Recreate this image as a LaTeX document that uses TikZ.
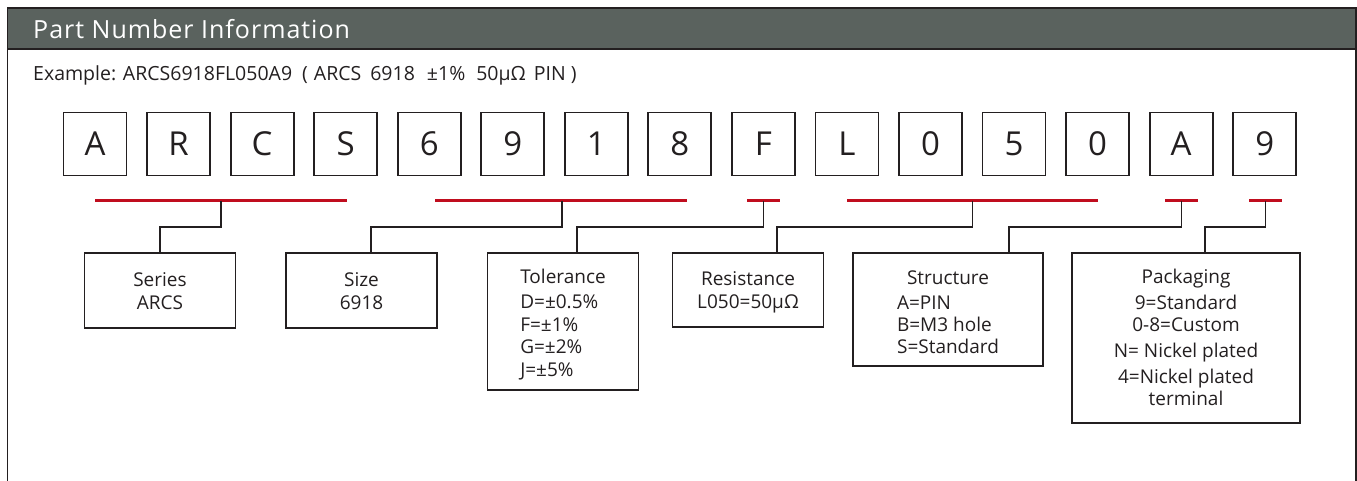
\documentclass[tikz,border=0pt]{standalone}
\usepackage{fontspec}
\setmainfont{Open Sans}
\definecolor{ink}{HTML}{231F20}
\definecolor{hdr}{HTML}{5A625E}
\definecolor{redl}{HTML}{C00D1E}
\tikzset{
  letterbox/.style={draw=ink, line width=1.8pt, minimum width=63pt, minimum height=63pt, inner sep=0pt, font=\fontsize{33}{36}\selectfont, text=ink},
  infobox/.style={draw=ink, line width=1.6pt, inner sep=0pt},
  infotext/.style={inner sep=0pt, align=center, font=\fontsize{19}{22.5}\selectfont, text=ink},
  redbar/.style={draw=redl, line width=3pt},
  conn/.style={draw=ink, line width=1.6pt},
}
\begin{document}
\begin{tikzpicture}[x=1pt,y=-1pt]
\useasboundingbox (0,0) rectangle (1357,481);
% frame and header
\fill[hdr] (7.5,8) rectangle (1356,49);
\draw[ink, line width=1.4pt] (7.5,481) -- (7.5,8) -- (1356,8) -- (1356,481);
\draw[ink, line width=1.6pt] (7.5,49) -- (1356,49);
\node[anchor=west, text=white, font=\fontsize{25}{28}\selectfont\addfontfeature{LetterSpace=4}, inner sep=0pt] (title) at (33,29) {Part Number Information};
\node[anchor=west, text=ink, font=\fontsize{19.5}{22}\selectfont, inner sep=0pt] (example) at (33,75) {Example: ARCS6918FL050A9\hspace{10pt}(\hspace{6pt}ARCS\hspace{9pt}6918\hspace{12pt}±1\%\hspace{11pt}50μΩ\hspace{8pt}PIN\hspace{5pt})};
% letter boxes
\foreach \ch [count=\i from 0] in {A,R,C,S,6,9,1,8,F,L,0,5,0,A,9} {
  \node[letterbox] (b\i) at ({95+83.55*\i},144) {\ch};
}
% red bars
\coordinate (m) at (0,227);
\draw[redbar] (95,201) -- (347,201);   \coordinate (r1) at (221,201);
\draw[redbar] (435,201) -- (687,201);  \coordinate (r2) at (562,201);
\draw[redbar] (747,201) -- (780,201);  \coordinate (r3) at (763.5,201);
\draw[redbar] (847,201) -- (1098,201); \coordinate (r4) at (972.5,201);
\draw[redbar] (1165,201) -- (1198,201); \coordinate (r5) at (1181.5,201);
\draw[redbar] (1249,201) -- (1282,201); \coordinate (r6) at (1265.5,201);
% info boxes
\node[infobox, minimum width=151pt, minimum height=75pt] (series) at (160,290.5) {};
\node[infobox, minimum width=151pt, minimum height=75pt] (size) at (361.5,290.5) {};
\node[infobox, minimum width=151pt, minimum height=137pt] (tol) at (563,321.5) {};
\node[infobox, minimum width=151pt, minimum height=74pt] (res) at (748,290) {};
\node[infobox, minimum width=190pt, minimum height=113pt] (str) at (948,309.5) {};
\node[infobox, minimum width=228pt, minimum height=170pt] (pack) at (1186,338) {};
% box texts
\node[infotext] (seriest) at ([yshift=-0.5pt]series.center) {Series\\ARCS};
\node[infotext] (sizet) at ([yshift=-0.5pt]size.center) {Size\\6918};
\node[infotext] (tolt) at ([yshift=-4pt]tol.center) {\begin{tabular}{@{}l@{}}Tolerance\\[2.5pt]D=±0.5\%\\F=±1\%\\G=±2\%\\J=±5\%\end{tabular}};
\node[infotext] (rest) at ([yshift=-2.5pt]res.center) {Resistance\\L050=50μΩ};
\node[infotext] (strt) at ([yshift=-6pt]str.center) {Structure\\[3pt]\begin{tabular}[t]{@{}l@{}}A=PIN\\[-0.5pt]B=M3 hole\\[-0.5pt]S=Standard\end{tabular}};
\node[infotext] (packt) at ([yshift=0.5pt]pack.center) {Packaging\\[3pt]9=Standard\\0-8=Custom\\[3pt]N= Nickel plated\\[4pt]4=Nickel plated\\[-1pt]terminal};
% connectors
\draw[conn] (r1) -- (r1 |- m) -| (series.north);
\draw[conn] (r2) -- (r2 |- m) -| ([xshift=9.5pt]size.north);
\draw[conn] (r3) -- (r3 |- m) -| ([xshift=14pt]tol.north);
\draw[conn] (r4) -- (r4 |- m) -| ([xshift=29pt]res.north);
\draw[conn] (r5) -- (r5 |- m) -| ([xshift=61pt]str.north);
\draw[conn] (r6) -- (r6 |- m) -| ([xshift=19pt]pack.north);
\end{tikzpicture}
\end{document}
